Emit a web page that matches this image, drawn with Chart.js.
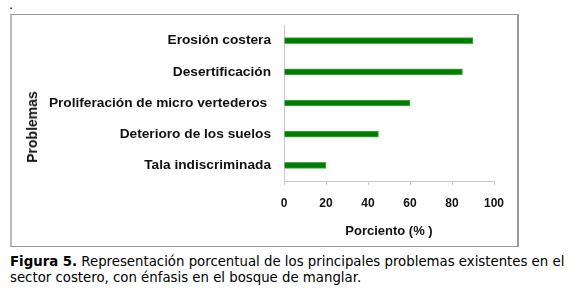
<!DOCTYPE html>
<html>
<head>
<meta charset="utf-8">
<script src="https://cdn.jsdelivr.net/npm/chart.js@4/dist/chart.umd.min.js"></script>
<style>
  html, body { margin: 0; padding: 0; background: #fff; width: 574px; height: 290px; overflow: hidden; position: relative; }
  #dot { position: absolute; left: 9px; top: -3px; font: 13px "DejaVu Sans", sans-serif; color: #000; }
  #frame { position: absolute; left: 10px; top: 14px; width: 505px; height: 231px; border: 1px solid #999; border-left: 2px solid #bbb; border-right: 2px solid #999; }
  #c { position: absolute; left: 0; top: 0; }
  #ytitle { position: absolute; left: 32px; top: 127px; transform: translate(-50%, -50%) rotate(-90deg); font: bold 14px "Liberation Sans", Arial, sans-serif; color: #111; white-space: nowrap; }
  #caption { position: absolute; left: 10px; top: 254px; width: 564px; font: 13.3px "DejaVu Sans", Verdana, sans-serif; line-height: 16px; color: #000; white-space: nowrap; }
</style>
</head>
<body>
<div id="dot">.</div>
<div id="frame"></div>
<canvas id="c" width="574" height="250"></canvas>
<div id="ytitle">Problemas</div>
<div id="caption"><b>Figura 5.</b> Representación porcentual de los principales problemas existentes en el<br>sector costero, con énfasis en el bosque de manglar.</div>
<script>
const categories = ["Erosión costera", "Desertificación", "Proliferación de micro vertederos ", "Deterioro de los suelos", "Tala indiscriminada"];
const percentValues = [90, 85, 60, 45, 20];
const xTickValues = [0, 20, 40, 60, 80, 100];
const xAxisTitle = "Porciento (% )";

const ctx = document.getElementById('c').getContext('2d');
new Chart(ctx, {
  type: 'bar',
  data: {
    labels: categories,
    datasets: [{
      data: percentValues,
      backgroundColor: '#007d00',
      borderColor: '#52a852',
      borderWidth: 1,
      barThickness: 6
    }]
  },
  options: {
    indexAxis: 'y',
    responsive: false,
    animation: false,
    devicePixelRatio: 1,
    layout: { padding: { left: 0, right: 80, top: 25, bottom: 9 } },
    plugins: { legend: { display: false }, tooltip: { enabled: false } },
    scales: {
      y: {
        type: 'category',
        grid: { display: false, drawTicks: false },
        border: { display: true, color: '#c8c8c8', width: 1 },
        ticks: {
          padding: 13,
          color: '#111',
          font: { family: '"Liberation Sans", Arial, sans-serif', size: 13.7, weight: 'bold' },
          autoSkip: false
        },
        afterFit(scale) { scale.width = 284; }
      },
      x: {
        type: 'linear',
        min: xTickValues[0],
        max: xTickValues[xTickValues.length - 1],
        afterBuildTicks(scale) { scale.ticks = xTickValues.map(v => ({ value: v })); },
        grid: { display: true, drawOnChartArea: false, drawTicks: true, tickLength: 4, color: '#c8c8c8' },
        border: { display: true, color: '#c8c8c8', width: 1 },
        ticks: {
          padding: 11,
          color: '#111',
          font: { family: '"Liberation Sans", Arial, sans-serif', size: 12, weight: 'bold' },
          maxRotation: 0
        },
        title: {
          display: true,
          text: xAxisTitle,
          color: '#111',
          font: { family: '"Liberation Sans", Arial, sans-serif', size: 13, weight: 'bold' },
          padding: { top: 0, bottom: 2 }
        },
        afterFit(scale) { scale.height = 60; }
      }
    }
  }
});
</script>
</body>
</html>
